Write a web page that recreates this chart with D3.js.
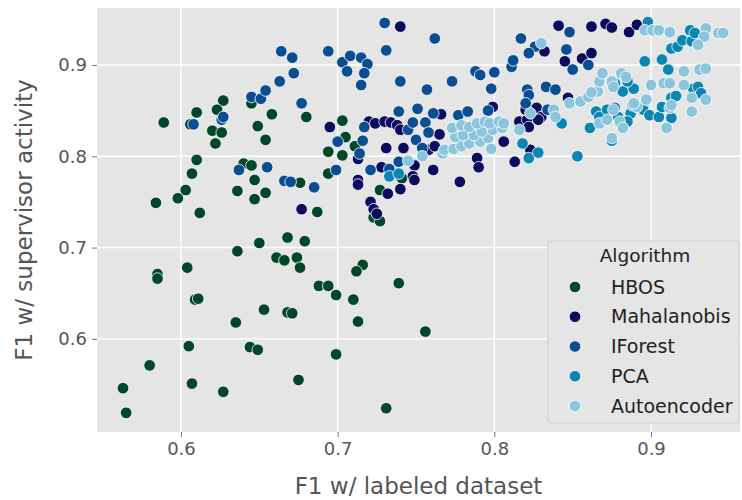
<!DOCTYPE html>
<html><head><meta charset="utf-8">
<script src="https://cdn.jsdelivr.net/npm/d3@7"></script>
<style>body{margin:0;background:#fff}svg{display:block}</style>
</head><body>
<svg id="c" width="742" height="500"></svg>
<script>
const algorithms = ["HBOS","Mahalanobis","IForest","PCA","Autoencoder"];
const colors = ["#00472a","#0a0a5e","#0a4d92","#0b86b2","#8bc5dc"];
const xTicks = [0.6,0.7,0.8,0.9];
const yTicks = [0.6,0.7,0.8,0.9];
const xLabel = "F1 w/ labeled dataset";
const yLabel = "F1 w/ supervisor activity";
const legendTitle = "Algorithm";

const hbos = [[0.627,0.861],[0.610,0.848],[0.623,0.851],[0.589,0.837],[0.606,0.835],[0.620,0.828],[0.626,0.826],[0.622,0.814],[0.645,0.858],[0.658,0.846],[0.680,0.843],[0.649,0.833],[0.654,0.818],[0.703,0.839],[0.694,0.805],[0.703,0.801],[0.694,0.781],[0.610,0.796],[0.607,0.781],[0.603,0.763],[0.598,0.754],[0.584,0.749],[0.612,0.738],[0.640,0.792],[0.645,0.790],[0.647,0.774],[0.636,0.762],[0.647,0.753],[0.654,0.760],[0.676,0.771],[0.687,0.739],[0.668,0.711],[0.650,0.705],[0.679,0.707],[0.636,0.696],[0.661,0.689],[0.666,0.686],[0.674,0.689],[0.676,0.678],[0.604,0.678],[0.585,0.671],[0.585,0.666],[0.688,0.658],[0.694,0.658],[0.699,0.648],[0.609,0.643],[0.611,0.644],[0.653,0.632],[0.668,0.629],[0.671,0.628],[0.635,0.618],[0.605,0.592],[0.644,0.591],[0.649,0.588],[0.699,0.583],[0.580,0.571],[0.607,0.551],[0.675,0.555],[0.627,0.542],[0.563,0.546],[0.565,0.519],[0.723,0.733],[0.727,0.729],[0.716,0.681],[0.712,0.674],[0.739,0.661],[0.710,0.643],[0.713,0.619],[0.756,0.608],[0.731,0.524],[0.705,0.821],[0.711,0.811],[0.727,0.763],[0.741,0.776]];
const mahalanobis = [[0.695,0.832],[0.677,0.742],[0.721,0.750],[0.723,0.742],[0.725,0.737],[0.720,0.838],[0.724,0.836],[0.730,0.838],[0.734,0.837],[0.738,0.834],[0.740,0.829],[0.766,0.846],[0.765,0.824],[0.713,0.797],[0.731,0.809],[0.742,0.809],[0.758,0.807],[0.749,0.790],[0.761,0.785],[0.728,0.788],[0.748,0.778],[0.749,0.774],[0.713,0.774],[0.713,0.769],[0.732,0.759],[0.740,0.764],[0.778,0.772],[0.740,0.942],[0.799,0.854],[0.762,0.811],[0.789,0.798],[0.790,0.788],[0.806,0.816],[0.813,0.794],[0.823,0.807],[0.827,0.853],[0.830,0.843],[0.816,0.838],[0.821,0.840],[0.847,0.864],[0.841,0.943],[0.862,0.942],[0.871,0.945],[0.875,0.941],[0.886,0.936],[0.891,0.944],[0.832,0.915],[0.845,0.904],[0.856,0.907],[0.862,0.913],[0.820,0.851],[0.822,0.832],[0.828,0.840]];
const iforest = [[0.608,0.835],[0.626,0.840],[0.627,0.843],[0.645,0.865],[0.651,0.863],[0.654,0.872],[0.663,0.882],[0.677,0.858],[0.664,0.915],[0.671,0.908],[0.672,0.891],[0.694,0.915],[0.703,0.903],[0.708,0.910],[0.715,0.908],[0.719,0.901],[0.706,0.893],[0.717,0.891],[0.715,0.878],[0.730,0.946],[0.731,0.916],[0.762,0.929],[0.740,0.882],[0.757,0.873],[0.773,0.882],[0.788,0.893],[0.791,0.889],[0.800,0.892],[0.811,0.898],[0.812,0.905],[0.798,0.874],[0.739,0.849],[0.751,0.852],[0.761,0.847],[0.777,0.845],[0.783,0.849],[0.796,0.850],[0.717,0.832],[0.745,0.829],[0.748,0.837],[0.756,0.837],[0.758,0.826],[0.700,0.816],[0.716,0.817],[0.750,0.818],[0.714,0.803],[0.754,0.809],[0.699,0.785],[0.721,0.785],[0.733,0.786],[0.739,0.794],[0.637,0.785],[0.655,0.788],[0.666,0.773],[0.670,0.772],[0.685,0.766],[0.817,0.929],[0.826,0.920],[0.822,0.913],[0.846,0.917],[0.850,0.895],[0.860,0.900],[0.848,0.936],[0.821,0.873],[0.822,0.867],[0.833,0.876],[0.839,0.873],[0.820,0.858],[0.834,0.851]];
const pca = [[0.733,0.778],[0.739,0.781],[0.818,0.814],[0.822,0.798],[0.828,0.804],[0.843,0.836],[0.853,0.800],[0.875,0.817],[0.861,0.831],[0.865,0.849],[0.867,0.843],[0.872,0.851],[0.877,0.853],[0.879,0.843],[0.887,0.847],[0.882,0.871],[0.889,0.874],[0.877,0.880],[0.885,0.882],[0.895,0.851],[0.899,0.845],[0.905,0.843],[0.913,0.842],[0.913,0.864],[0.916,0.866],[0.927,0.874],[0.930,0.876],[0.932,0.869],[0.896,0.904],[0.907,0.906],[0.911,0.895],[0.913,0.918],[0.917,0.920],[0.920,0.927],[0.926,0.926],[0.925,0.938],[0.928,0.935],[0.898,0.947],[0.907,0.854],[0.885,0.838]];
const autoencoder = [[0.745,0.795],[0.754,0.800],[0.767,0.803],[0.768,0.807],[0.774,0.808],[0.779,0.811],[0.784,0.814],[0.791,0.816],[0.796,0.820],[0.775,0.821],[0.780,0.823],[0.787,0.823],[0.792,0.827],[0.799,0.829],[0.805,0.831],[0.773,0.831],[0.779,0.834],[0.784,0.832],[0.789,0.836],[0.794,0.838],[0.797,0.836],[0.803,0.838],[0.806,0.836],[0.798,0.808],[0.823,0.847],[0.816,0.829],[0.838,0.851],[0.839,0.843],[0.848,0.858],[0.855,0.860],[0.860,0.865],[0.866,0.871],[0.867,0.882],[0.869,0.891],[0.875,0.882],[0.881,0.891],[0.884,0.887],[0.867,0.836],[0.872,0.840],[0.876,0.851],[0.880,0.838],[0.882,0.831],[0.888,0.856],[0.891,0.854],[0.897,0.862],[0.910,0.831],[0.912,0.853],[0.913,0.856],[0.900,0.878],[0.908,0.880],[0.912,0.880],[0.921,0.878],[0.926,0.864],[0.935,0.862],[0.926,0.849],[0.921,0.893],[0.931,0.895],[0.935,0.896],[0.896,0.938],[0.901,0.938],[0.905,0.938],[0.912,0.936],[0.935,0.940],[0.934,0.931],[0.930,0.922],[0.943,0.935],[0.946,0.935],[0.830,0.924],[0.875,0.820],[0.862,0.870],[0.876,0.876],[0.889,0.858]];
const seriesData = [hbos, mahalanobis, iforest, pca, autoencoder];

const W = 742, H = 500;
const m = {left: 97, right: 2, top: 8, bottom: 68};
const svg = d3.select("#c");
const font = "DejaVu Sans, sans-serif";

const x = d3.scaleLinear().domain([0.5464, 0.9568]).range([m.left, W - m.right]);
const y = d3.scaleLinear().domain([0.4980, 0.9624]).range([H - m.bottom, m.top]);

svg.append("rect").attr("x", m.left).attr("y", m.top)
  .attr("width", W - m.left - m.right).attr("height", H - m.top - m.bottom)
  .attr("fill", "#e5e5e5");

const grid = svg.append("g");
grid.selectAll(".gx").data(xTicks).join("line")
  .attr("x1", d => x(d)).attr("x2", d => x(d))
  .attr("y1", m.top).attr("y2", H - m.bottom)
  .attr("stroke", "#fff").attr("stroke-width", 1.4);
grid.selectAll(".gy").data(yTicks).join("line")
  .attr("y1", d => y(d)).attr("y2", d => y(d))
  .attr("x1", m.left).attr("x2", W - m.right)
  .attr("stroke", "#fff").attr("stroke-width", 1.4);

const xAxis = svg.append("g").attr("transform", `translate(0,${H - m.bottom})`)
  .call(d3.axisBottom(x).tickValues(xTicks).tickFormat(d3.format(".1f")).tickSize(5).tickPadding(5));
const yAxis = svg.append("g").attr("transform", `translate(${m.left},0)`)
  .call(d3.axisLeft(y).tickValues(yTicks).tickFormat(d3.format(".1f")).tickSize(5).tickPadding(5));
[xAxis, yAxis].forEach(a => {
  a.select(".domain").remove();
  a.selectAll(".tick line").attr("stroke", "#777").attr("stroke-width", 1);
  a.selectAll(".tick text").attr("fill", "#555").style("font-family", font).style("font-size", "18px");
});

const pts = svg.append("g");
seriesData.forEach((data, i) => {
  pts.append("g").selectAll("circle").data(data).join("circle")
    .attr("cx", d => x(d[0])).attr("cy", d => y(d[1])).attr("r", 5.8)
    .attr("fill", colors[i]).attr("stroke", "#fff").attr("stroke-width", 0.8);
});

svg.append("text").attr("x", (m.left + W - m.right) / 2).attr("y", 494)
  .attr("text-anchor", "middle").attr("fill", "#555")
  .style("font-family", font).style("font-size", "23px").text(xLabel);
svg.append("text").attr("transform", `translate(32,${(m.top + H - m.bottom) / 2}) rotate(-90)`)
  .attr("text-anchor", "middle").attr("fill", "#555")
  .style("font-family", font).style("font-size", "23px").text(yLabel);

const lg = svg.append("g");
lg.append("rect").attr("x", 548).attr("y", 241).attr("width", 191).attr("height", 182)
  .attr("rx", 3).attr("fill", "#e5e5e5").attr("stroke", "#d0d0d0").attr("stroke-width", 1);
lg.append("text").attr("x", 645).attr("y", 256).attr("dy", "0.35em").attr("text-anchor", "middle")
  .attr("fill", "#222").style("font-family", font).style("font-size", "18.5px").text(legendTitle);
const ly = d3.scalePoint().domain(algorithms).range([287, 406]);
algorithms.forEach((a, i) => {
  lg.append("circle").attr("cx", 575).attr("cy", ly(a)).attr("r", 5.8)
    .attr("fill", colors[i]).attr("stroke", "#fff").attr("stroke-width", 0.8);
  lg.append("text").attr("x", 611).attr("y", ly(a)).attr("dy", "0.35em")
    .attr("fill", "#222").style("font-family", font).style("font-size", "19px").text(a);
});
</script>
</body></html>
